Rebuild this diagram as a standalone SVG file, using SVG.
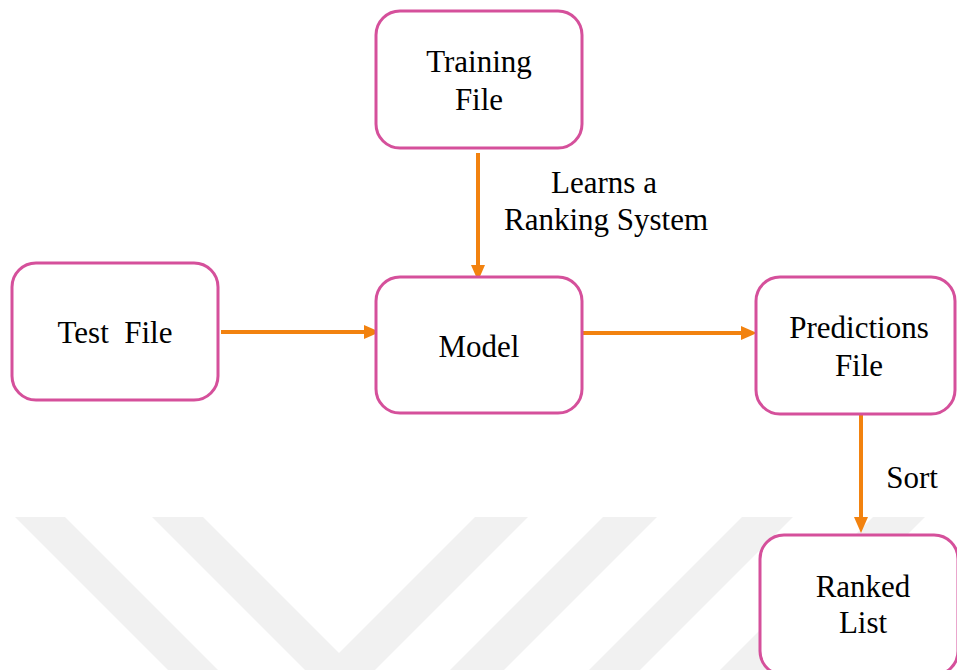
<svg xmlns="http://www.w3.org/2000/svg" width="957" height="670" viewBox="0 0 957 670">
<style>
.node rect{fill:#fff;stroke:#d5509b;stroke-width:3}
.node text{font-size:31px;fill:#000;text-anchor:middle}
.lbl{font-size:31px;fill:#000;text-anchor:middle}
.edge{stroke:#f2820f;stroke-width:4;fill:none}
.wm{fill:#f1f1f1}
</style>
<defs>
<marker id="ah" markerUnits="userSpaceOnUse" markerWidth="16" markerHeight="14" refX="4" refY="7" orient="auto">
<path d="M0,0 L16,7 L0,14 z" fill="#f2820f"/>
</marker>
</defs>
<rect width="957" height="670" fill="#fff"/>
<g id="watermark">
<polygon class="wm" points="15,517 65,517 218,670 168,670"/>
<polygon class="wm" points="152,517 203,517 339,653 475,517 528,517 340,705"/>
<polygon class="wm" points="603,517 657,517 504,670 450,670"/>
<polygon class="wm" points="742,517 793,517 640,670 589,670"/>
<polygon class="wm" points="873,517 925,517 772,670 720,670"/>
</g>
<g font-family="Liberation Serif, Times New Roman, DejaVu Serif, serif">
<g id="connectors">
<path class="edge" d="M478,153 V269" marker-end="url(#ah)"/>
<path class="edge" d="M221,332 H368" marker-end="url(#ah)"/>
<path class="edge" d="M583,333 H745" marker-end="url(#ah)"/>
<path class="edge" d="M861,414 V521" marker-end="url(#ah)"/>
<text class="lbl" x="604" y="193">Learns a</text>
<text class="lbl" x="606" y="230">Ranking System</text>
<text class="lbl" x="912" y="488">Sort</text>
</g>
<g id="training" class="node">
<rect x="376" y="11" width="206" height="137" rx="24"/>
<text x="479" y="72">Training</text>
<text x="479" y="110">File</text>
</g>
<g id="test" class="node">
<rect x="12" y="263" width="206" height="137" rx="24"/>
<text x="115" y="343" xml:space="preserve" style="white-space:pre">Test  File</text>
</g>
<g id="model" class="node">
<rect x="376" y="277" width="206" height="136" rx="24"/>
<text x="479" y="357">Model</text>
</g>
<g id="predictions" class="node">
<rect x="756" y="277" width="199" height="137" rx="24"/>
<text x="859" y="338">Predictions</text>
<text x="859" y="376">File</text>
</g>
<g id="ranked" class="node">
<rect x="760" y="535" width="198" height="140" rx="24"/>
<text x="863" y="597">Ranked</text>
<text x="863" y="633">List</text>
</g>
</g>
</svg>
